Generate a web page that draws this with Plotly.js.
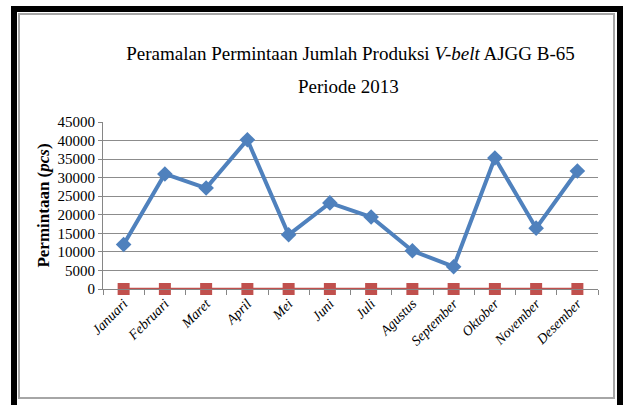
<!DOCTYPE html>
<html>
<head>
<meta charset="utf-8">
<script src="https://cdn.plot.ly/plotly-3.0.1.min.js"></script>
<style>
  html, body { margin: 0; padding: 0; background: #ffffff; }
  #wrap { position: relative; width: 623px; height: 405px; overflow: hidden; background: #fff; }
  #chart { position: absolute; left: 0; top: 0; width: 623px; height: 405px; }
  #frameBlack { position: absolute; left: 11px; top: 6px; width: 612px; height: 410px;
    box-sizing: border-box; border-left: 6px solid #000; border-top: 6px solid #000; border-right: 6px solid #000; pointer-events: none; }
  #frameGrey { position: absolute; left: 18px; top: 13px; width: 597px; height: 386px;
    box-sizing: border-box; border: 2px solid #a6a6a6; pointer-events: none; }
</style>
</head>
<body>
<div id="wrap">
  <div id="chart"></div>
  <div id="frameBlack"></div>
  <div id="frameGrey"></div>
</div>
<script>
const months = ["Januari", "Februari", "Maret", "April", "Mei", "Juni", "Juli",
                "Agustus", "September", "Oktober", "November", "Desember"];
const permintaan = [12000, 31000, 27200, 40200, 14600, 23200, 19400, 10300, 6000, 35300, 16400, 31800];
const peramalan = [0, 0, 0, 0, 0, 0, 0, 0, 0, 0, 0, 0];
const yTicks = [0, 5000, 10000, 15000, 20000, 25000, 30000, 35000, 40000, 45000];
const titleLine1 = "Peramalan Permintaan Jumlah Produksi <i>V-belt</i> AJGG B-65";
const titleLine2 = "Periode 2013";

const serif = "'Liberation Serif', 'Times New Roman', serif";

const traces = [
  {
    x: months, y: peramalan, type: "scatter", mode: "lines+markers",
    line: { color: "#C0504D", width: 2.5 },
    marker: { symbol: "square", size: 12, color: "#C0504D" },
    showlegend: false, cliponaxis: false
  },
  {
    x: months, y: permintaan, type: "scatter", mode: "lines+markers",
    line: { color: "#4F81BD", width: 4 },
    marker: { symbol: "diamond", size: 12, color: "#4F81BD" },
    showlegend: false, cliponaxis: false
  }
];

const layout = {
  width: 623, height: 405,
  margin: { l: 103, r: 25, t: 122, b: 116 },
  paper_bgcolor: "#ffffff", plot_bgcolor: "#ffffff",
  font: { family: serif, color: "#000" },
  title: {
    text: titleLine1,
    font: { family: serif, size: 19, color: "#000" },
    xref: "paper", x: 0.5, xanchor: "center",
    yref: "container", y: 0.885, yanchor: "top"
  },
  annotations: [
    {
      text: titleLine2, showarrow: false,
      xref: "paper", x: 0.495, xanchor: "center",
      yref: "paper", y: 1.215, yanchor: "middle",
      font: { family: serif, size: 19, color: "#000" }
    }
  ],
  xaxis: {
    type: "category", range: [-0.5, 11.5],
    tickangle: -45, tickson: "boundaries",
    ticks: "outside", ticklen: 5, tickcolor: "#868686",
    showline: true, linecolor: "#868686", linewidth: 1,
    showgrid: false, zeroline: false,
    tickfont: { family: serif, size: 14, color: "#000", style: "italic" }
  },
  yaxis: {
    range: [0, 45000], tickvals: yTicks, ticktext: yTicks.map(String),
    ticks: "outside", ticklen: 4, tickcolor: "#868686",
    showline: true, linecolor: "#868686", linewidth: 1,
    showgrid: true, gridcolor: "#8c8c8c", gridwidth: 1,
    zeroline: false,
    tickfont: { family: serif, size: 15, color: "#000" },
    title: {
      text: "<b>Permintaan (<i>pcs</i>)</b>",
      font: { family: serif, size: 17, color: "#000" },
      standoff: 3
    }
  }
};

Plotly.newPlot("chart", traces, layout, { displayModeBar: false, staticPlot: true });
</script>
</body>
</html>
